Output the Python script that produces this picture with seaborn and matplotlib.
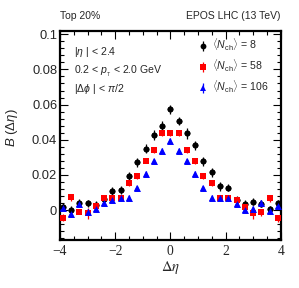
import numpy as np
import pandas as pd
import seaborn as sns
import matplotlib
matplotlib.use("Agg")
import matplotlib.pyplot as plt
from matplotlib.ticker import MultipleLocator, FuncFormatter

# ---- data ----
deta = [-3.9, -3.6, -3.3, -3.0, -2.7, -2.4, -2.1, -1.8, -1.5, -1.2, -0.9, -0.6, -0.3, 0.0,
        0.3, 0.6, 0.9, 1.2, 1.5, 1.8, 2.1, 2.4, 2.7, 3.0, 3.3, 3.6, 3.9]
b_n8 = [0.0019, 0.0002, 0.0042, 0.0038, 0.0030, 0.0063, 0.0108, 0.0114, 0.0193, 0.0271, 0.0350,
        0.0426, 0.0479, 0.0572, 0.0507, 0.0436, 0.0369, 0.0278, 0.0214, 0.0136, 0.0127, 0.0060,
        0.0035, 0.0047, 0.0035, 0.0006, 0.0038]
b_n58 = [-0.0044, 0.0072, -0.0008, -0.0019, 0.0025, 0.0066, 0.0066, 0.0070, 0.0152, 0.0193, 0.0280,
         0.0341, 0.0439, 0.0439, 0.0439, 0.0341, 0.0278, 0.0193, 0.0152, 0.0066, 0.0066, 0.0055,
         0.0017, -0.0019, -0.0013, 0.0066, -0.0047]
b_n106 = [0.0013, -0.0025, 0.0036, -0.0010, 0.0005, 0.0038, 0.0060, 0.0068, 0.0070, 0.0123, 0.0208,
          0.0278, 0.0337, 0.0394, 0.0337, 0.0278, 0.0208, 0.0123, 0.0070, 0.0070, 0.0066, 0.0036,
          0.0003, 0.0006, 0.0040, -0.0006, 0.0025]
err_n8 = [0.002, 0.002, 0.002, 0.002, 0.002, 0.002, 0.0025, 0.0025, 0.0025, 0.0025, 0.0025, 0.0028,
          0.003, 0.0025, 0.0025, 0.003, 0.0025, 0.0025, 0.0025, 0.0025, 0.002, 0.002, 0.002, 0.002,
          0.002, 0.002, 0.002]
err_n58 = [0.002, 0.002, 0.0015, 0.003, 0.0015, 0.0015, 0.0015, 0.0015, 0.0015, 0.0015, 0.0015, 0.0015,
           0.0015, 0.0015, 0.0015, 0.0015, 0.0015, 0.0015, 0.0015, 0.0015, 0.0015, 0.0015, 0.002, 0.003,
           0.002, 0.002, 0.002]
err_n106 = [0.0015] * 27
labels = [r"$\langle N_{\rm ch}\rangle$ = 8", r"$\langle N_{\rm ch}\rangle$ = 58",
          r"$\langle N_{\rm ch}\rangle$ = 106"]

series = [(b_n8, err_n8, "black", "o", 4.2, 18),
          (b_n58, err_n58, "#ff0000", "s", 4.4, 22),
          (b_n106, err_n106, "#0000ff", "^", 4.8, 25)]

sns.set_style("ticks")
plt.rcParams["font.family"] = ["Liberation Sans", "DejaVu Sans"]
plt.rcParams["mathtext.fontset"] = "custom"
plt.rcParams["mathtext.rm"] = "Liberation Sans"
plt.rcParams["mathtext.it"] = "Liberation Sans:italic"
plt.rcParams["mathtext.bf"] = "Liberation Sans:bold"

fig = plt.figure(figsize=(2.99, 2.88), dpi=100)
ax = fig.add_axes([60 / 299, 1 - 240 / 288, 220.7 / 299, 209.3 / 288])

handles = []
for (vals, errs, col, mk, ms, s), lab in zip(series, labels):
    df = pd.DataFrame({"deta": deta, "B": vals})
    h = ax.errorbar(deta, vals, yerr=errs, fmt=mk, color=col, ms=ms, mew=0,
                    elinewidth=0.9, capsize=0, label=lab, zorder=3)
    sns.scatterplot(data=df, x="deta", y="B", ax=ax, color=col, marker=mk, s=s,
                    linewidth=0, legend=False, zorder=4)
    handles.append(h)

ax.set_xlim(-4, 4)
ax.set_ylim(-0.017, 0.102)
ax.xaxis.set_major_locator(MultipleLocator(2))
ax.xaxis.set_minor_locator(MultipleLocator(0.5))
ax.yaxis.set_major_locator(MultipleLocator(0.02))
ax.yaxis.set_minor_locator(MultipleLocator(0.004))
ax.yaxis.set_major_formatter(FuncFormatter(lambda v, p: f"{v:g}" if abs(v) > 1e-9 else "0"))
ax.tick_params(which="both", direction="in", top=True, right=True, width=0.8, color="black")
ax.tick_params(which="major", length=6)
ax.tick_params(which="minor", length=3.2)
ax.tick_params(axis="y", which="major", labelsize=9.3, pad=2)
ax.tick_params(axis="x", which="major", labelsize=9.8, pad=3.5)
for t in ax.get_xticklabels():
    t.set_fontfamily("Liberation Serif")
for sp in ax.spines.values():
    sp.set_linewidth(1.6)
    sp.set_color("black")
ax.set_xlabel("")
ax.set_ylabel("")

fig.text(171 / 299, 1 - 268 / 288, r"$\Delta\eta$", ha="center", va="center",
         fontsize=10.5, math_fontfamily="stix")
fig.text(12.5 / 299, 1 - 128 / 288, r"$B\ (\Delta\eta)$", ha="center", va="center",
         rotation=90, fontsize=9.5)

fig.text(60 / 299, 1 - 16 / 288, "Top 20%", ha="left", va="center", fontsize=7.5)
fig.text(280 / 299, 1 - 16 / 288, "EPOS LHC (13 TeV)", ha="right", va="center", fontsize=7.5)

fig.text(74 / 299, 1 - 52 / 288, r"$|\eta\ |$ < 2.4", ha="left", va="center", fontsize=7.6)
fig.text(74 / 299, 1 - 71 / 288, r"0.2 < $p_{_{\rm T}}$ < 2.0 GeV", ha="left", va="center",
         fontsize=7.6)
fig.text(74 / 299, 1 - 89 / 288, r"$|\Delta\phi\ |$ < $\pi$/2", ha="left", va="center",
         fontsize=7.6)

leg = ax.legend(handles=handles, labels=labels, loc="upper left",
                bbox_to_anchor=((199 - 60) / 220.7, (240 - 37) / 209.3),
                frameon=False, fontsize=7.6, handlelength=0.8, handletextpad=0.4,
                labelspacing=0.45, borderpad=0, borderaxespad=0)

fig.savefig("out.png", dpi=100)
